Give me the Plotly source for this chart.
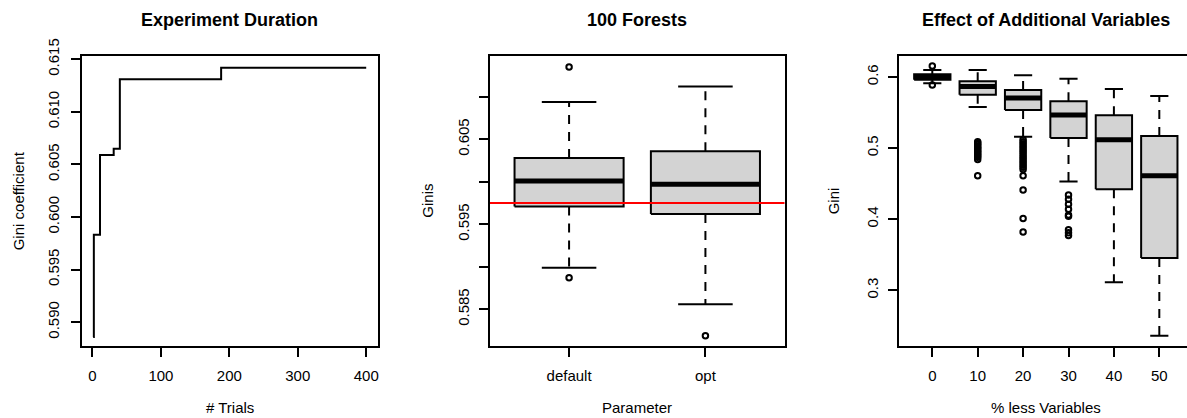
import plotly.graph_objects as go
from plotly.subplots import make_subplots

W, H = 1187, 418

# ---------------- Panel 1: Experiment Duration ----------------
trials = [1, 2, 11, 31, 40, 188, 400]
best_gini = [0.5886, 0.5983, 0.6059, 0.6065, 0.6131, 0.6142, 0.6142]

# ---------------- Panel 2: 100 Forests ----------------
param_names = ["default", "opt"]
p_lower = [0.5899, 0.5856]
p_q1 = [0.5971, 0.5962]
p_median = [0.6001, 0.5997]
p_q3 = [0.6028, 0.6036]
p_upper = [0.6094, 0.6112]
p_outliers = [[0.6135, 0.5887], [0.5819]]
reference_gini = 0.5975

# ---------------- Panel 3: Effect of Additional Variables ----------------
pct_labels = ["0", "10", "20", "30", "40", "50"]
v_lower = [0.5911, 0.5578, 0.5161, 0.4530, 0.3112, 0.2362]
v_q1 = [0.5960, 0.5752, 0.5536, 0.5142, 0.4420, 0.3454]
v_median = [0.6000, 0.5868, 0.5705, 0.5466, 0.5118, 0.4612]
v_q3 = [0.6040, 0.5940, 0.5817, 0.5658, 0.5461, 0.5170]
v_upper = [0.6098, 0.6098, 0.6024, 0.5977, 0.5831, 0.5733]
v_outliers = [
    [0.6155, 0.5887],
    [0.509, 0.507, 0.505, 0.503, 0.501, 0.499, 0.497, 0.495, 0.493, 0.491,
     0.489, 0.487, 0.484, 0.461],
    [0.512, 0.509, 0.506, 0.503, 0.500, 0.497, 0.494, 0.491, 0.488, 0.485,
     0.482, 0.479, 0.476, 0.473, 0.470, 0.461, 0.441, 0.401, 0.382],
    [0.434, 0.428, 0.421, 0.414, 0.406, 0.404, 0.385, 0.381, 0.377],
    [],
    [],
]

FONT = "Liberation Sans, Arial, Helvetica, sans-serif"
BOXW = 0.8
STAPLE = 0.4

fig = make_subplots(rows=1, cols=3)

fig.add_trace(go.Scatter(x=trials, y=best_gini, mode="lines",
                         line=dict(color="black", width=2, shape="hv"),
                         showlegend=False, hoverinfo="skip"), row=1, col=1)


def add_boxes(col, lower, q1, med, q3, upper, outliers):
    n = len(med)
    pos = list(range(1, n + 1))
    bx, by, mx, my, wx, wy, sx, sy, ox, oy = [], [], [], [], [], [], [], [], [], []
    for i, p in enumerate(pos):
        l, r = p - BOXW / 2, p + BOXW / 2
        bx += [l, r, r, l, l, None]
        by += [q1[i], q1[i], q3[i], q3[i], q1[i], None]
        mx += [l, r, None]
        my += [med[i], med[i], None]
        wx += [p, p, None, p, p, None]
        wy += [q3[i], upper[i], None, q1[i], lower[i], None]
        sl, sr = p - STAPLE / 2, p + STAPLE / 2
        sx += [sl, sr, None, sl, sr, None]
        sy += [upper[i], upper[i], None, lower[i], lower[i], None]
        for v in outliers[i]:
            ox.append(p)
            oy.append(v)
    fig.add_trace(go.Scatter(x=wx, y=wy, mode="lines",
                             line=dict(color="black", width=2, dash="9px,8px"),
                             showlegend=False, hoverinfo="skip"), row=1, col=col)
    fig.add_trace(go.Scatter(x=sx, y=sy, mode="lines",
                             line=dict(color="black", width=2),
                             showlegend=False, hoverinfo="skip"), row=1, col=col)
    fig.add_trace(go.Scatter(x=bx, y=by, mode="lines", fill="toself",
                             fillcolor="#D3D3D3",
                             line=dict(color="black", width=2),
                             showlegend=False, hoverinfo="skip"), row=1, col=col)
    fig.add_trace(go.Scatter(x=mx, y=my, mode="lines",
                             line=dict(color="black", width=5),
                             showlegend=False, hoverinfo="skip"), row=1, col=col)
    fig.add_trace(go.Scatter(x=ox, y=oy, mode="markers",
                             marker=dict(symbol="circle-open", size=5.5,
                                         color="black", line=dict(width=2)),
                             showlegend=False, hoverinfo="skip"), row=1, col=col)


add_boxes(2, p_lower, p_q1, p_median, p_q3, p_upper, p_outliers)
add_boxes(3, v_lower, v_q1, v_median, v_q3, v_upper, v_outliers)

fig.add_hline(y=reference_gini, line=dict(color="#FF0000", width=2), row=1, col=2)

TOP, BOT = 56.0, 345.5
ydom = [1 - BOT / H, 1 - TOP / H]

axis_common = dict(showline=True, linecolor="black", linewidth=2,
                   ticks="outside", ticklen=9, tickwidth=1.5, tickcolor="black",
                   showgrid=False, zeroline=False,
                   tickfont=dict(family=FONT, size=15, color="black"),
                   automargin=False)

fig.update_layout(
    width=W, height=H,
    margin=dict(l=0, r=0, t=0, b=0),
    paper_bgcolor="white", plot_bgcolor="white",
    font=dict(family=FONT, size=15, color="black"),
    showlegend=False,
    xaxis=dict(domain=[82 / W, 377.5 / W], range=[-15.3, 416.5],
               tickvals=[0, 100, 200, 300, 400], mirror=True,
               ticklabelstandoff=6, **axis_common),
    yaxis=dict(domain=ydom, range=[0.58778, 0.61531],
               tickvals=[0.590, 0.595, 0.600, 0.605, 0.610, 0.615],
               tickformat=".3f", tickangle=-90, mirror=True,
               ticklabelstandoff=6, **axis_common),
    xaxis2=dict(domain=[490 / W, 784.5 / W], range=[0.42, 2.58],
                tickvals=[1, 2], ticktext=param_names, mirror=True,
                ticklabelstandoff=6, **axis_common),
    yaxis2=dict(domain=ydom, range=[0.58074, 0.6148],
                tickvals=[0.585, 0.590, 0.595, 0.600, 0.605, 0.610],
                ticktext=["0.585", "", "0.595", "", "0.605", ""],
                tickangle=-90, mirror=True,
                ticklabelstandoff=4, **axis_common),
    xaxis3=dict(domain=[898.7 / W, 1.0], range=[0.26, 6.61],
                tickvals=[1, 2, 3, 4, 5, 6], ticktext=pct_labels, mirror=True,
                ticklabelstandoff=6, **axis_common),
    yaxis3=dict(domain=ydom, range=[0.22236, 0.62954],
                tickvals=[0.3, 0.4, 0.5, 0.6], tickformat=".1f",
                tickangle=-90, mirror=False,
                ticklabelstandoff=4, **axis_common),
)


def ann(text, xpx, ypx, size=15, angle=0):
    fig.add_annotation(text=text, x=xpx / W, y=1 - ypx / H, xref="paper", yref="paper",
                       showarrow=False, textangle=angle, xanchor="center", yanchor="middle",
                       font=dict(family=FONT, size=size, color="black"))


# panel titles
ann("<b>Experiment Duration</b>", 229.7, 20, size=18)
ann("<b>100 Forests</b>", 637.2, 20, size=18)
ann("<b>Effect of Additional Variables</b>", 1045.8, 20, size=18)
# x-axis titles
ann("# Trials", 229.7, 407.5)
ann("Parameter", 637.2, 407.5)
ann("% less Variables", 1045.8, 407.5)
# y-axis titles
ann("Gini coefficient", 18.3, 201, angle=-90)
ann("Ginis", 426.7, 201, angle=-90)
ann("Gini", 833.3, 201, angle=-90)

fig.write_html("out.html")
